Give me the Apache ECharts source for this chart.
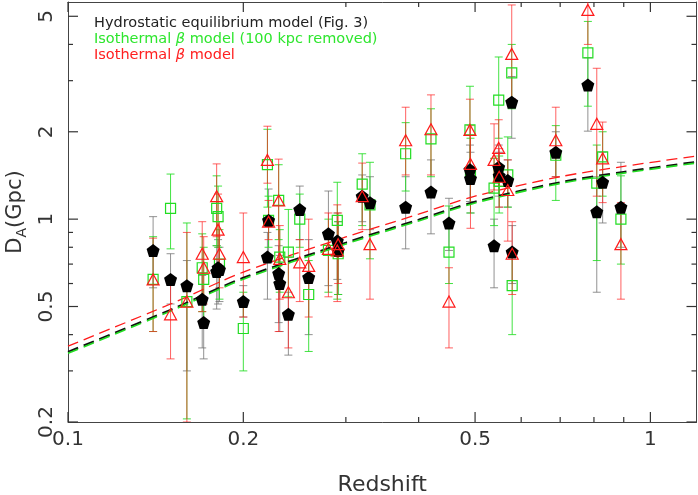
<!DOCTYPE html>
<html>
<head>
<meta charset="utf-8">
<script src="https://cdn.jsdelivr.net/npm/echarts@6/dist/echarts.min.js"></script>
<style>html,body{margin:0;padding:0;background:#fff}#main{width:698px;height:495px}</style>
</head>
<body>
<div id="main"></div>
<script>
// cluster redshifts
var redshift = [0.140,0.150,0.160,0.170,0.171,0.180,0.181,0.182,0.200,0.220,0.221,0.230,0.231,0.239,0.250,0.259,0.280,0.290,0.291,0.320,0.330,0.380,0.420,0.451,0.490,0.491,0.539,0.549,0.550,0.569,0.578,0.579,0.688,0.781,0.809,0.828,0.890];

// hydrostatic equilibrium model (black)
var hse   = [0.78,0.62,0.59,0.53,0.44,0.66,0.68,0.67,0.52,0.74,0.99,0.65,0.60,0.47,1.08,0.63,0.89,0.84,0.78,1.20,1.14,1.10,1.24,0.97,1.48,1.38,0.81,1.51,1.41,1.36,2.53,0.77,1.70,2.90,1.06,1.34,1.10];
var hseLo = [0.58,0.51,0.30,0.36,0.33,0.49,0.51,0.52,0.46,0.53,0.71,0.44,0.41,0.34,0.85,0.40,0.59,0.62,0.55,0.98,0.92,0.79,0.89,0.78,1.15,1.05,0.58,1.20,1.10,1.10,1.90,0.60,1.40,2.01,0.56,0.97,0.80];
var hseHi = [1.02,0.76,0.72,0.64,0.53,0.81,0.85,0.80,0.59,0.90,1.27,0.81,0.75,0.56,1.30,0.85,1.25,1.05,0.98,1.42,1.40,1.40,1.60,1.18,1.80,1.70,1.00,1.80,1.70,1.60,3.10,0.95,2.00,3.60,1.40,1.70,1.57];

// isothermal beta model, 100 kpc removed (green)
var iso100   = [0.62,1.09,0.52,0.68,0.62,1.09,1.02,0.70,0.42,1.54,0.99,1.16,0.74,0.77,1.00,0.55,0.78,0.99,0.76,1.32,1.12,1.68,1.89,0.77,2.03,1.45,1.28,2.57,1.35,1.42,3.19,0.59,1.66,3.74,1.33,1.64,1.00];
var iso100Lo = [0.41,0.79,0.205,0.48,0.45,0.81,0.80,0.53,0.30,1.10,0.80,0.85,0.56,0.54,0.80,0.35,0.56,0.53,0.55,0.95,0.73,1.25,1.40,0.60,1.45,1.05,0.95,1.90,1.05,1.10,2.40,0.40,1.16,2.45,0.72,1.20,0.70];
var iso100Hi = [0.87,1.43,0.97,0.89,0.80,1.41,1.30,0.92,0.56,2.04,1.20,1.54,0.92,1.08,1.22,0.72,1.00,1.34,0.98,1.68,1.57,2.15,2.40,1.11,2.87,1.90,1.62,3.62,1.65,1.92,4.00,0.77,2.10,4.80,1.80,2.00,1.41];

// isothermal beta model (red)
var iso   = [0.62,0.47,0.52,0.76,0.68,1.20,0.92,0.76,0.74,1.60,0.98,1.16,0.73,0.56,0.71,0.69,0.79,0.78,0.82,1.20,0.82,1.87,2.04,0.52,2.03,1.55,1.60,1.76,1.40,1.26,3.71,0.76,1.87,5.26,2.13,1.62,0.82];
var isoLo = [0.41,0.33,0.20,0.48,0.51,0.87,0.70,0.58,0.46,1.33,0.85,0.41,0.53,0.36,0.52,0.46,0.54,0.52,0.60,0.92,0.53,1.42,1.42,0.36,1.50,0.93,1.26,1.30,1.10,0.84,2.60,0.55,1.40,4.00,1.20,1.14,0.53];
var isoHi = [0.86,0.62,0.90,0.98,0.87,1.55,1.22,0.98,1.05,2.09,1.16,1.61,0.95,0.74,0.85,1.00,1.05,1.12,1.05,1.56,1.12,2.43,2.68,0.68,2.59,2.10,2.13,2.20,1.75,1.60,5.47,0.98,2.43,6.50,3.31,2.16,1.14];

// model curves
var modelZ      = [0.1,0.15,0.2,0.3,0.4,0.5,0.7,0.9,1.2];
var modelHse    = [0.349,0.487,0.628,0.830,0.996,1.148,1.340,1.455,1.576];
var modelIso100 = [0.345,0.482,0.621,0.821,0.986,1.137,1.327,1.441,1.561];
var modelIso    = [0.365,0.510,0.657,0.868,1.040,1.200,1.400,1.520,1.650];

var xMajor = [0.1,0.2,0.5,1];
var xMinor = [0.3,0.4,0.6,0.7,0.8,0.9];
var yMajor = [0.2,0.5,1,2,5];
var yMinor = [0.3,0.4,0.6,0.7,0.8,0.9,3,4];

var xLim = [0.1, 1.2];
var yLim = [0.2, 5.6];

var GREEN = '#22dd22', RED = '#ff1a1a', FRAME = '#444';
var FONT = 'DejaVu Sans';

function pairs(xs, ys) {
    return xs.map(function (x, i) { return [x, ys[i]]; });
}
function triples(lo, hi) {
    return redshift.map(function (z, i) { return [z, lo[i], hi[i]]; });
}

function errorBars(color) {
    return function (params, api) {
        var x = api.value(0);
        var lo = api.coord([x, api.value(1)]);
        var hi = api.coord([x, api.value(2)]);
        var w = 4;
        var st = {stroke: color, lineWidth: 1};
        return {
            type: 'group',
            children: [
                {type: 'line', shape: {x1: hi[0], y1: hi[1], x2: lo[0], y2: lo[1]}, style: st},
                {type: 'line', shape: {x1: hi[0] - w, y1: hi[1], x2: hi[0] + w, y2: hi[1]}, style: st},
                {type: 'line', shape: {x1: lo[0] - w, y1: lo[1], x2: lo[0] + w, y2: lo[1]}, style: st}
            ]
        };
    };
}

// inward ticks on both sides of the frame, placed through the axes' own scale
function xTicks(len) {
    return function (params, api) {
        var v = api.value(0);
        var b = api.coord([v, yLim[0]]);
        var t = api.coord([v, yLim[1]]);
        var st = {stroke: '#333', lineWidth: 1.2};
        return {type: 'group', children: [
            {type: 'line', shape: {x1: b[0], y1: b[1], x2: b[0], y2: b[1] - len}, style: st},
            {type: 'line', shape: {x1: t[0], y1: t[1], x2: t[0], y2: t[1] + len}, style: st}
        ]};
    };
}
function yTicks(len) {
    return function (params, api) {
        var v = api.value(1);
        var l = api.coord([xLim[0], v]);
        var r = api.coord([xLim[1], v]);
        var st = {stroke: '#333', lineWidth: 1.2};
        return {type: 'group', children: [
            {type: 'line', shape: {x1: l[0], y1: l[1], x2: l[0] + len, y2: l[1]}, style: st},
            {type: 'line', shape: {x1: r[0], y1: r[1], x2: r[0] - len, y2: r[1]}, style: st}
        ]};
    };
}
function tickSeries(render, data) {
    return {type: 'custom', renderItem: render, data: data, encode: {x: 0, y: 1}, silent: true, z: 8, clip: false};
}

function logAxis(pos, lim, label) {
    return {
        type: 'log',
        logBase: 10,
        position: pos,
        min: lim[0],
        max: lim[1],
        axisLine: {show: true, onZero: false, lineStyle: {color: FRAME, width: 1}},
        axisTick: {show: false},
        axisLabel: label || {show: false},
        splitLine: {show: false},
        minorTick: {show: false}
    };
}

var xMain = logAxis('bottom', xLim, {
    customValues: xMajor, color: '#333', fontFamily: FONT, fontSize: 20, margin: 8
});
xMain.name = 'Redshift';
xMain.nameLocation = 'middle';
xMain.nameGap = 52;
xMain.nameTextStyle = {color: '#333', fontFamily: FONT, fontSize: 22};

var yMain = logAxis('left', yLim, {
    customValues: yMajor, color: '#333', fontFamily: FONT, fontSize: 20, margin: 11, rotate: 90
});
yMain.name = '{d|D}{s|A}{d|(Gpc)}';
yMain.nameLocation = 'middle';
yMain.nameGap = 38;
yMain.nameRotate = 90;
yMain.nameTextStyle = {
    rich: {
        d: {color: '#333', fontFamily: FONT, fontSize: 21, lineHeight: 28},
        s: {color: '#333', fontFamily: FONT, fontSize: 14, lineHeight: 14, verticalAlign: 'bottom'}
    }
};

var option = {
    animation: false,
    backgroundColor: '#fff',
    grid: {left: 68, right: 1.5, top: 2, bottom: 73, containLabel: false, outerBoundsMode: 'none'},
    xAxis: [xMain, logAxis('top', xLim)],
    yAxis: [yMain, logAxis('right', yLim)],
    graphic: [
        {type: 'text', left: 94, top: 16, style: {text: 'Hydrostatic equilibrium model (Fig. 3)', fill: '#222', font: '14.5px "DejaVu Sans"'}},
        {type: 'text', left: 94, top: 32, style: {
            text: '{n|Isothermal }{i|β}{n| model (100 kpc removed)}',
            rich: {
                n: {fill: '#2ee62e', fontFamily: FONT, fontSize: 14.5},
                i: {fill: '#2ee62e', fontFamily: FONT, fontSize: 14.5, fontStyle: 'italic'}
            }
        }},
        {type: 'text', left: 94, top: 48, style: {
            text: '{n|Isothermal }{i|β}{n| model}',
            rich: {
                n: {fill: '#ff2020', fontFamily: FONT, fontSize: 14.5},
                i: {fill: '#ff2020', fontFamily: FONT, fontSize: 14.5, fontStyle: 'italic'}
            }
        }}
    ],
    series: [
        {
            name: 'hse err', type: 'custom', clip: true, renderItem: errorBars('rgba(110,110,110,0.75)'),
            encode: {x: 0, y: [1, 2]}, data: triples(hseLo, hseHi), z: 1
        },
        {
            name: 'iso100 err', type: 'custom', clip: true, renderItem: errorBars('rgba(34,221,34,0.85)'),
            encode: {x: 0, y: [1, 2]}, data: triples(iso100Lo, iso100Hi), z: 2
        },
        {
            name: 'iso err', type: 'custom', clip: true, renderItem: errorBars('rgba(255,30,30,0.7)'),
            encode: {x: 0, y: [1, 2]}, data: triples(isoLo, isoHi), z: 3
        },
        {
            name: 'model hse', type: 'line', data: pairs(modelZ, modelHse), smooth: 0.3, symbol: 'none',
            lineStyle: {color: '#111', width: 2, type: [11, 6]}, z: 4
        },
        {
            name: 'model iso100', type: 'line', data: pairs(modelZ, modelIso100), smooth: 0.3, symbol: 'none',
            lineStyle: {color: GREEN, width: 1.6, type: [11, 6]}, z: 4
        },
        {
            name: 'model iso', type: 'line', data: pairs(modelZ, modelIso), smooth: 0.3, symbol: 'none',
            lineStyle: {color: RED, width: 1.3, type: [11, 6]}, z: 4
        },
        {
            name: 'Isothermal beta (100 kpc removed)', type: 'scatter', data: pairs(redshift, iso100),
            symbol: 'rect', symbolSize: 10,
            itemStyle: {color: 'rgba(0,0,0,0)', borderColor: GREEN, borderWidth: 1.2, opacity: 1}, z: 5
        },
        {
            name: 'Hydrostatic equilibrium', type: 'scatter', data: pairs(redshift, hse),
            symbol: 'path://M0,-10 L9.51,-3.09 L5.88,8.09 L-5.88,8.09 L-9.51,-3.09 Z', symbolSize: 13,
            itemStyle: {color: '#000', opacity: 1}, z: 6
        },
        {
            name: 'Isothermal beta', type: 'scatter', data: pairs(redshift, iso),
            symbol: 'triangle', symbolSize: [12, 11],
            itemStyle: {color: 'rgba(0,0,0,0)', borderColor: RED, borderWidth: 1.2, opacity: 1}, z: 7
        },
        tickSeries(xTicks(10), xMajor.map(function (v) { return [v, yLim[0]]; })),
        tickSeries(xTicks(5), xMinor.map(function (v) { return [v, yLim[0]]; })),
        tickSeries(yTicks(10), yMajor.map(function (v) { return [xLim[0], v]; })),
        tickSeries(yTicks(5), yMinor.map(function (v) { return [xLim[0], v]; }))
    ]
};

var chart = echarts.init(document.getElementById('main'));
chart.setOption(option);
</script>
</body>
</html>
